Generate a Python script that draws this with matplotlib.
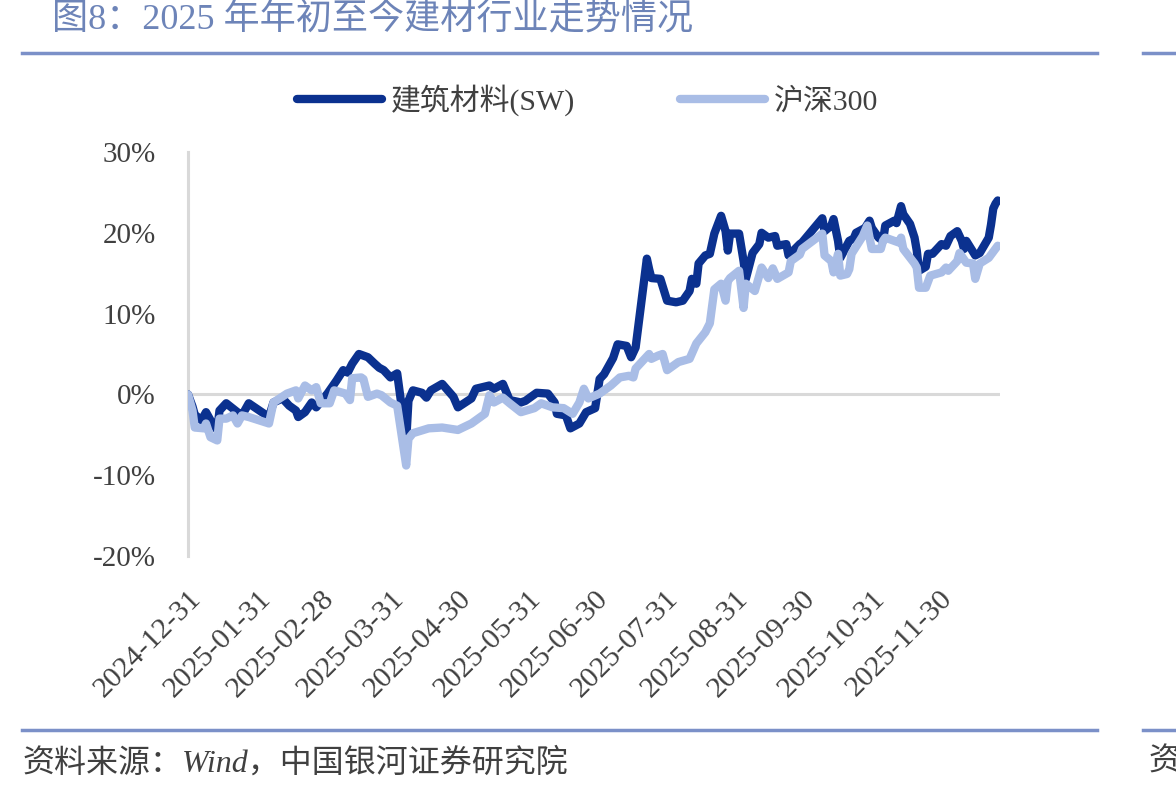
import matplotlib
matplotlib.use('Agg')
import matplotlib.pyplot as plt
import matplotlib.dates as mdates
from matplotlib.lines import Line2D
import pandas as pd

plt.rcParams['font.family'] = ['Liberation Serif', 'Noto Sans CJK SC', 'DejaVu Sans']

title = '图8：2025 年年初至今建材行业走势情况'
source = '资料来源：Wind，中国银河证券研究院'
names = ['建筑材料(SW)', '沪深300']

# 建筑材料(SW) 累计涨跌幅 (%)
bm_dates = ['2024-12-31', '2025-01-02', '2025-01-03', '2025-01-06', '2025-01-08', '2025-01-10',
            '2025-01-13', '2025-01-14', '2025-01-17', '2025-01-22', '2025-01-24', '2025-01-27',
            '2025-02-05', '2025-02-07', '2025-02-11', '2025-02-14', '2025-02-17', '2025-02-18',
            '2025-02-21', '2025-02-24', '2025-02-26', '2025-03-03', '2025-03-07', '2025-03-10',
            '2025-03-12', '2025-03-14', '2025-03-17', '2025-03-21', '2025-03-24', '2025-03-26',
            '2025-03-28', '2025-03-31', '2025-04-03', '2025-04-07', '2025-04-08', '2025-04-10',
            '2025-04-14', '2025-04-16', '2025-04-18', '2025-04-23', '2025-04-28', '2025-04-30',
            '2025-05-06', '2025-05-08', '2025-05-14', '2025-05-16', '2025-05-20', '2025-05-23',
            '2025-05-28', '2025-05-30', '2025-06-03', '2025-06-04', '2025-06-09', '2025-06-12',
            '2025-06-13', '2025-06-17', '2025-06-19', '2025-06-23', '2025-06-26', '2025-06-30',
            '2025-07-02', '2025-07-04', '2025-07-08', '2025-07-10', '2025-07-14', '2025-07-16',
            '2025-07-18', '2025-07-23', '2025-07-24', '2025-07-25', '2025-07-29', '2025-08-01',
            '2025-08-05', '2025-08-08', '2025-08-11', '2025-08-12', '2025-08-14', '2025-08-15',
            '2025-08-18', '2025-08-20', '2025-08-22', '2025-08-25', '2025-08-27', '2025-08-28',
            '2025-08-29', '2025-09-02', '2025-09-04', '2025-09-05', '2025-09-08', '2025-09-11',
            '2025-09-12', '2025-09-15', '2025-09-18', '2025-09-19', '2025-09-23', '2025-09-24',
            '2025-09-29', '2025-09-30', '2025-10-09', '2025-10-10', '2025-10-13', '2025-10-14',
            '2025-10-16', '2025-10-17', '2025-10-21', '2025-10-23', '2025-10-24', '2025-10-28',
            '2025-10-30', '2025-10-31', '2025-11-03', '2025-11-05', '2025-11-06', '2025-11-10',
            '2025-11-11', '2025-11-13', '2025-11-14', '2025-11-17', '2025-11-19', '2025-11-20',
            '2025-11-21', '2025-11-24', '2025-11-25', '2025-11-27', '2025-12-01', '2025-12-03',
            '2025-12-05', '2025-12-08', '2025-12-10', '2025-12-11', '2025-12-12', '2025-12-16',
            '2025-12-18', '2025-12-22', '2025-12-23', '2025-12-24', '2025-12-25', '2025-12-26']
bm_vals = [0.0, -1.5, -2.5, -3.2, -2.2, -3.2,
           -4.4, -2.0, -1.1, -2.2, -2.6, -1.1,
           -2.8, -1.0, -0.5, -1.4, -2.0, -2.8,
           -2.2, -1.0, -1.6, 0.1, 1.7, 3.0,
           2.7, 3.8, 5.0, 4.6, 3.8, 3.3,
           3.0, 2.1, 2.6, -5.7, -0.8, 0.5,
           0.2, -0.4, 0.5, 1.3, -0.3, -1.6,
           -0.5, 0.7, 1.1, 0.7, 1.3, -0.7,
           -1.0, -0.8, 0.0, 0.2, 0.1, -1.0,
           -2.4, -2.6, -4.2, -3.6, -2.2, -1.7,
           1.9, 2.5, 4.5, 6.2, 6.0, 4.6,
           5.8, 16.8, 15.5, 14.4, 14.3, 11.6,
           11.4, 11.6, 12.8, 14.3, 13.7, 16.2,
           17.2, 17.4, 19.9, 22.1, 20.2, 17.8,
           19.9, 19.9, 16.5, 14.3, 17.5, 18.6,
           20.0, 19.4, 19.6, 18.4, 18.6, 17.2,
           18.6, 18.8, 21.8, 20.2, 20.9, 21.7,
           19.0, 16.9, 19.0, 19.3, 20.0, 20.6,
           21.5, 20.6, 19.4, 19.0, 20.9, 21.5,
           21.2, 23.3, 22.3, 21.1, 19.4, 17.8,
           15.3, 15.8, 17.4, 17.4, 18.6, 18.4,
           19.6, 20.2, 19.0, 18.0, 19.0, 17.2,
           17.5, 19.4, 21.0, 23.0, 23.6, 24.0]

# 沪深300 累计涨跌幅 (%)
hs_dates = ['2024-12-31', '2025-01-02', '2025-01-03', '2025-01-07', '2025-01-08', '2025-01-10',
            '2025-01-13', '2025-01-14', '2025-01-17', '2025-01-20', '2025-01-22', '2025-01-24',
            '2025-01-27', '2025-02-05', '2025-02-07', '2025-02-13', '2025-02-17', '2025-02-18',
            '2025-02-21', '2025-02-24', '2025-02-26', '2025-02-28', '2025-03-04', '2025-03-06',
            '2025-03-11', '2025-03-13', '2025-03-14', '2025-03-18', '2025-03-19', '2025-03-21',
            '2025-03-25', '2025-03-27', '2025-03-31', '2025-04-03', '2025-04-07', '2025-04-08',
            '2025-04-10', '2025-04-17', '2025-04-23', '2025-04-30', '2025-05-06', '2025-05-12',
            '2025-05-14', '2025-05-16', '2025-05-20', '2025-05-23', '2025-05-28', '2025-06-03',
            '2025-06-06', '2025-06-11', '2025-06-16', '2025-06-20', '2025-06-23', '2025-06-25',
            '2025-06-27', '2025-07-02', '2025-07-07', '2025-07-11', '2025-07-15', '2025-07-17',
            '2025-07-18', '2025-07-24', '2025-07-25', '2025-07-28', '2025-07-30', '2025-08-01',
            '2025-08-04', '2025-08-06', '2025-08-11', '2025-08-14', '2025-08-18', '2025-08-20',
            '2025-08-22', '2025-08-25', '2025-08-27', '2025-08-28', '2025-08-29', '2025-09-02',
            '2025-09-04', '2025-09-05', '2025-09-09', '2025-09-12', '2025-09-15', '2025-09-17',
            '2025-09-19', '2025-09-24', '2025-09-25', '2025-09-29', '2025-09-30', '2025-10-09',
            '2025-10-10', '2025-10-13', '2025-10-14', '2025-10-16', '2025-10-17', '2025-10-20',
            '2025-10-21', '2025-10-22', '2025-10-27', '2025-10-29', '2025-10-30', '2025-10-31',
            '2025-11-04', '2025-11-05', '2025-11-06', '2025-11-10', '2025-11-12', '2025-11-13',
            '2025-11-14', '2025-11-19', '2025-11-20', '2025-11-21', '2025-11-24', '2025-11-26',
            '2025-12-01', '2025-12-03', '2025-12-04', '2025-12-08', '2025-12-09', '2025-12-12',
            '2025-12-15', '2025-12-16', '2025-12-18', '2025-12-22', '2025-12-26']
hs_vals = [0.0, -2.0, -4.1, -4.2, -3.6, -5.3,
           -5.7, -3.0, -3.0, -2.6, -3.6, -2.6,
           -2.8, -3.6, -1.0, 0.1, 0.5, -0.5,
           1.1, 0.5, 0.9, -1.1, -1.1, 0.5,
           0.1, -0.7, 2.0, 2.1, 1.9, -0.3,
           0.1, -0.1, -1.0, -1.4, -8.8, -5.5,
           -4.8, -4.2, -4.1, -4.4, -3.6, -2.4,
           -0.1, -1.0, -0.4, -1.1, -2.2, -1.7,
           -1.1, -1.6, -1.7, -2.4, -1.0, 0.7,
           -0.5, 0.1, 1.1, 2.1, 2.3, 2.1,
           3.2, 5.0, 4.4, 4.8, 5.0, 3.0,
           3.6, 4.0, 4.4, 6.3, 7.7, 8.8,
           13.0, 13.7, 11.6, 14.0, 14.4, 15.3,
           10.7, 13.7, 12.8, 15.7, 14.4, 15.6,
           14.3, 15.1, 16.5, 17.3, 18.0, 19.9,
           17.2, 16.5, 15.1, 17.4, 14.7, 14.9,
           15.5, 17.4, 19.6, 20.9, 19.4, 18.0,
           18.0, 19.0, 19.4, 19.0, 18.8, 19.4,
           18.0, 16.2, 15.7, 13.2, 13.2, 14.7,
           15.1, 15.7, 15.3, 16.5, 17.5, 16.3,
           16.2, 14.3, 16.2, 16.9, 18.4]

tick_dates = ['2024-12-31', '2025-01-31', '2025-02-28', '2025-03-31', '2025-04-30', '2025-05-31',
              '2025-06-30', '2025-07-31', '2025-08-31', '2025-09-30', '2025-10-31', '2025-11-30']
y_ticks = [-20, -10, 0, 10, 20, 30]

dark = '#0b318f'
light = '#a9bde6'
rule = '#7b90c8'
text_c = '#404040'

fig = plt.figure(figsize=(11.76, 7.94), dpi=100)
ax = fig.add_axes([188 / 1176, 1 - 556 / 794, 812 / 1176, 404 / 794])

ax.axhline(0, color='#d9d9d9', lw=2.2, zorder=1)
ax.plot(pd.to_datetime(bm_dates), bm_vals, color=dark, lw=6.0, solid_joinstyle='round',
        solid_capstyle='round', label=names[0], zorder=3)
ax.plot(pd.to_datetime(hs_dates), hs_vals, color=light, lw=6.0, solid_joinstyle='round',
        solid_capstyle='round', label=names[1], zorder=4)

ax.set_xlim(pd.Timestamp('2024-12-31'), pd.Timestamp('2025-12-27'))
ax.set_ylim(-20, 30)
ax.set_yticks(y_ticks)
ax.set_yticklabels(['%d%%' % v for v in y_ticks])
ax.set_xticks(pd.to_datetime(tick_dates))
ax.xaxis.set_major_formatter(mdates.DateFormatter('%Y-%m-%d'))

for key, spine in ax.spines.items():
    if key == 'left':
        spine.set_color('#d9d9d9')
        spine.set_linewidth(2.2)
    else:
        spine.set_visible(False)
ax.tick_params(axis='y', length=0, pad=23, labelsize=21, labelcolor=text_c)
ax.tick_params(axis='x', length=0, pad=21, labelsize=21.5, labelcolor=text_c)
for lab in ax.get_xticklabels():
    lab.set_rotation(45)
    lab.set_ha('right')
    lab.set_va('top')
    lab.set_rotation_mode('anchor')

fig.legend(loc='center', bbox_to_anchor=(0.5, 1 - 100 / 794), ncol=2, frameon=False,
           fontsize=21.5, handlelength=2.85, handletextpad=0.3, columnspacing=3.5,
           labelcolor=text_c)

fig.text(52 / 1176, 1 - 20 / 794, title, fontsize=26, color='#6d84b8', ha='left', va='center')
fig.text(22 / 1176, 1 - 763 / 794, source, fontsize=23, color=text_c, ha='left', va='center',
         style='italic')
fig.text(1148 / 1176, 1 - 763 / 794, '资', fontsize=23, color=text_c, ha='left', va='center',
         style='italic')

for yy in [53, 730]:
    fig.add_artist(Line2D([22 / 1176, 1097 / 1176], [1 - yy / 794, 1 - yy / 794],
                          color=rule, lw=2.5))
    fig.add_artist(Line2D([1143 / 1176, 1.0], [1 - yy / 794, 1 - yy / 794],
                          color=rule, lw=2.5))

fig.savefig('out.png', dpi=100)
